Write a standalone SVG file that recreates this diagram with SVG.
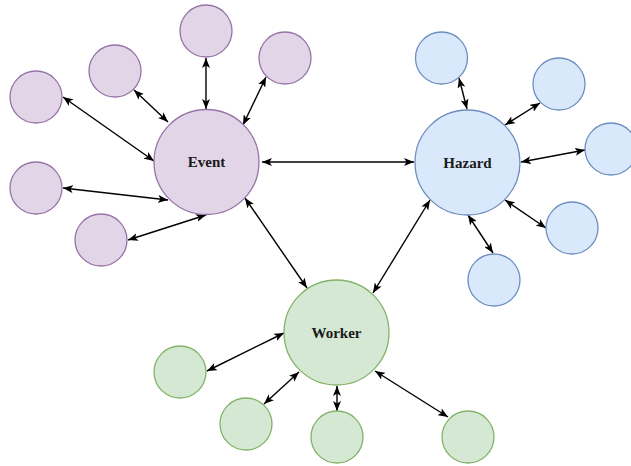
<svg xmlns="http://www.w3.org/2000/svg" width="631" height="466" viewBox="0 0 631 466">
<defs>
<marker id="ah" viewBox="0 0 10 8" refX="10" refY="4" markerWidth="10" markerHeight="8" markerUnits="userSpaceOnUse" orient="auto-start-reverse">
<path d="M0,0 L10,4 L0,8 L2.5,4 Z" fill="#000"/>
</marker>
<style>
.ev{fill:#e1d5e7;stroke:#9673a6;stroke-width:1.3}
.hz{fill:#dae8fc;stroke:#6c8ebf;stroke-width:1.3}
.wk{fill:#d5e8d4;stroke:#82b366;stroke-width:1.3}
.lbl{font-family:"Liberation Serif","Times New Roman",serif;font-weight:bold;font-size:15px;fill:#1a1a1a;text-anchor:middle;dominant-baseline:central}
.cn line{stroke:#000;stroke-width:1.4;marker-start:url(#ah);marker-end:url(#ah)}
</style>
</defs>
<rect width="631" height="466" fill="#fff"/>
<g id="connectors" class="cn">
<line x1="262" y1="162" x2="414" y2="162"/>
<line x1="245" y1="198" x2="307" y2="288"/>
<line x1="430" y1="200" x2="373" y2="293"/>
<line x1="206" y1="58" x2="206" y2="109"/>
<line x1="266" y1="77" x2="243" y2="125"/>
<line x1="134" y1="90" x2="168" y2="122"/>
<line x1="63" y1="97" x2="154" y2="161"/>
<line x1="63" y1="188" x2="168" y2="200"/>
<line x1="128" y1="240" x2="206" y2="215"/>
<line x1="459" y1="78" x2="467" y2="109"/>
<line x1="540" y1="103" x2="505" y2="125"/>
<line x1="585" y1="150" x2="521" y2="162"/>
<line x1="505" y1="200" x2="546" y2="228"/>
<line x1="468" y1="215" x2="493" y2="253"/>
<line x1="284" y1="333" x2="207" y2="371"/>
<line x1="299" y1="372" x2="264" y2="404"/>
<line x1="337" y1="386" x2="337" y2="411"/>
<line x1="375" y1="371" x2="448" y2="417"/>
</g>
<g id="event"><circle class="ev" cx="206.5" cy="162" r="52.5"/><text class="lbl" x="206.5" y="162">Event</text></g>
<g id="event-1"><circle class="ev" cx="206" cy="31" r="26"/></g>
<g id="event-2"><circle class="ev" cx="285" cy="58" r="26"/></g>
<g id="event-3"><circle class="ev" cx="115" cy="71" r="26"/></g>
<g id="event-4"><circle class="ev" cx="36" cy="97" r="26"/></g>
<g id="event-5"><circle class="ev" cx="36" cy="188" r="26"/></g>
<g id="event-6"><circle class="ev" cx="101" cy="240" r="26"/></g>
<g id="hazard"><circle class="hz" cx="467.5" cy="162.5" r="52.5"/><text class="lbl" x="467.5" y="162.5">Hazard</text></g>
<g id="hazard-1"><circle class="hz" cx="441.5" cy="58" r="26"/></g>
<g id="hazard-2"><circle class="hz" cx="559" cy="84" r="26"/></g>
<g id="hazard-3"><circle class="hz" cx="611" cy="149" r="26"/></g>
<g id="hazard-4"><circle class="hz" cx="572" cy="228" r="26"/></g>
<g id="hazard-5"><circle class="hz" cx="494" cy="280" r="26"/></g>
<g id="worker"><circle class="wk" cx="336.5" cy="332.5" r="52.5"/><text class="lbl" x="336.5" y="332.5">Worker</text></g>
<g id="worker-1"><circle class="wk" cx="180" cy="372" r="26"/></g>
<g id="worker-2"><circle class="wk" cx="246" cy="424" r="26"/></g>
<g id="worker-3"><circle class="wk" cx="337" cy="437" r="26"/></g>
<g id="worker-4"><circle class="wk" cx="468" cy="437" r="26"/></g>
</svg>
